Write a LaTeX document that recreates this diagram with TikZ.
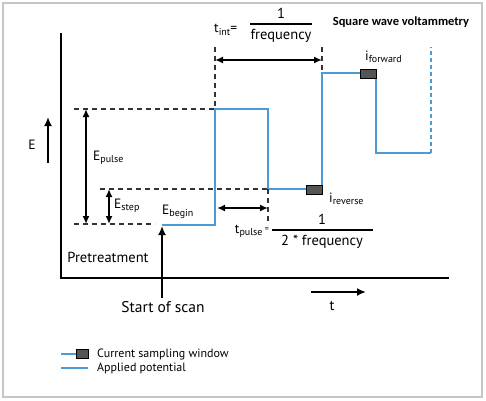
\documentclass[tikz,border=0pt]{standalone}
\usepackage{fontspec}
\setmainfont{PT Sans}
\newfontfamily\titlefont{Carlito}
\usetikzlibrary{arrows.meta}
\definecolor{wave}{RGB}{75,155,215}
\definecolor{window}{RGB}{85,85,85}
\newcommand{\lowered}[1]{\raisebox{-0.35ex}{\fontsize{10}{10}\selectfont #1}}

\begin{document}
\begin{tikzpicture}[x=1pt, y=-1pt,
	axis/.style={line width=2.2pt},
	guide/.style={line width=1.4pt, dash pattern=on 5pt off 4pt, black!80},
	potential/.style={wave, line width=1.7pt},
	dim/.style={line width=1.8pt, {Latex[length=8pt,width=7pt]}-{Latex[length=8pt,width=7pt]}},
	pointer/.style={line width=2pt, -{Latex[length=9pt,width=8pt]}},
	sampler/.style={draw=black, fill=window, line width=0.8pt, minimum width=16pt, minimum height=9pt, inner sep=0pt},
	lbl/.style={inner sep=1pt, font=\fontsize{13.5}{15}\selectfont}]
				% Frame
				\useasboundingbox (0,0) rectangle (486,400);
				\draw[gray!45, line width=1.5pt] (3,3) rectangle (482,397);

				% Axes
				\coordinate (ytop) at (61,33);
				\coordinate (origin) at (61,278);
				\coordinate (xend) at (449,278);
				\draw[axis] (ytop) -- (origin) -- (xend);

				% Applied potential
				\coordinate (w0) at (162,225);
				\coordinate (w1) at (215,225);
				\coordinate (w2) at (215,109);
				\coordinate (w3) at (268,109);
				\coordinate (w4) at (268,189);
				\coordinate (w5) at (322,189);
				\coordinate (w6) at (322,73);
				\coordinate (w7) at (376,73);
				\coordinate (w8) at (376,153);
				\coordinate (w9) at (431,153);
				\coordinate (wtop) at (431,47);
				\draw[potential] (w0) -- (w1) -- (w2) -- (w3) -- (w4) -- (w5) -- (w6) -- (w7) -- (w8) -- (w9);
				\draw[potential, dash pattern=on 4pt off 3pt] (w9) -- (wtop);

				% Guide lines
				\coordinate (pulseleft) at (74,109);
				\coordinate (stepleft) at (100,189);
				\coordinate (beginleft) at (74,224);
				\coordinate (beginright) at (155,224);
				\coordinate (inttop1) at (215,47);
				\coordinate (inttop2) at (322,47);
				\coordinate (pulsebot) at (268,225);
				\draw[guide] (pulseleft) -- (w2);
				\draw[guide] (stepleft) -- (w4);
				\draw[guide] (beginleft) -- (beginright);
				\draw[guide] (inttop1) -- (w2);
				\draw[guide] (inttop2) -- (w6);
				\draw[guide] (w4) -- (pulsebot);

				% Sampling windows
				\node[sampler] (irev) at (314,189.5) {};
				\node[sampler] (ifwd) at (368,73.5) {};
				\node[lbl, anchor=west] (irevlbl) at (328,199) {i\lowered{reverse}};
				\node[lbl, anchor=west] (ifwdlbl) at (364,57) {i\lowered{forward}};

				% Dimensions
				\coordinate (intA) at (215,60);
				\coordinate (intB) at (322,60);
				\draw[dim] (intA) -- (intB);
				\coordinate (epA) at (86,109);
				\coordinate (epB) at (86,224);
				\draw[dim] (epA) -- (epB);
				\coordinate (esA) at (109,189);
				\coordinate (esB) at (109,224);
				\draw[dim] (esA) -- (esB);
				\coordinate (tpA) at (217,208);
				\coordinate (tpB) at (268,208);
				\draw[dim] (tpA) -- (tpB);

				% Potential labels
				\node[lbl] (elbl) at (32,145) {E};
				\coordinate (eA) at (48,163);
				\coordinate (eB) at (48,117);
				\draw[pointer] (eA) -- (eB);
				\node[lbl, anchor=west] (epulse) at (92,158) {E\lowered{pulse}};
				\node[lbl, anchor=west] (estep) at (113,206) {E\lowered{step}};
				\node[lbl, anchor=west] (ebegin) at (161,212) {E\lowered{begin}};
				\node[lbl, font=\fontsize{14.5}{16}\selectfont] (pretreat) at (108,257) {Pretreatment};

				% Time labels
				\node[lbl, anchor=west] (tint) at (213,30) {t\lowered{int}=};
				\node[lbl, font=\fontsize{14.5}{16}\selectfont] (intnum) at (281,13) {1};
				\node[lbl, font=\fontsize{14.5}{16}\selectfont] (intden) at (281,36) {frequency};
				\coordinate (intruleA) at (250,24);
				\coordinate (intruleB) at (312,24);
				\draw[line width=1.5pt] (intruleA) -- (intruleB);
				\node[lbl, anchor=east] (tpulse) at (270,231) {t\lowered{pulse}\,\raisebox{0.2ex}{\fontsize{8}{8}\selectfont =}};
				\node[lbl, font=\fontsize{14.5}{16}\selectfont] (pulsenum) at (322,219) {1};
				\node[lbl, font=\fontsize{14.5}{16}\selectfont] (pulseden) at (322,242) {2 * frequency};
				\coordinate (pulseruleA) at (272,230);
				\coordinate (pulseruleB) at (373,230);
				\draw[line width=1.5pt] (pulseruleA) -- (pulseruleB);

				% Scan start and time axis
				\coordinate (scanA) at (162,298);
				\coordinate (scanB) at (162,226);
				\draw[pointer] (scanA) -- (scanB);
				\node[lbl, font=\fontsize{15.5}{17}\selectfont] (scan) at (163,307) {Start of scan};
				\coordinate (tA) at (311,292);
				\coordinate (tB) at (366,292);
				\draw[pointer] (tA) -- (tB);
				\node[lbl, font=\fontsize{14.5}{16}\selectfont] (tlbl) at (332,306) {t};

				% Title
				\node[font=\titlefont\bfseries\fontsize{12.5}{14}\selectfont] (title) at (401,22) {Square wave voltammetry};

				% Legend
				\coordinate (leg1A) at (61,354);
				\coordinate (leg1B) at (76,354);
				\draw[potential] (leg1A) -- (leg1B);
				\node[sampler, minimum width=12pt, anchor=west] (legbox) at (leg1B) {};
				\node[lbl, anchor=west, font=\fontsize{12}{13}\selectfont] (leg1) at (96,354) {Current sampling window};
				\coordinate (leg2A) at (61,368);
				\coordinate (leg2B) at (88,368);
				\draw[potential] (leg2A) -- (leg2B);
				\node[lbl, anchor=west, font=\fontsize{12}{13}\selectfont] (leg2) at (96,368) {Applied potential};
\end{tikzpicture}
\end{document}
